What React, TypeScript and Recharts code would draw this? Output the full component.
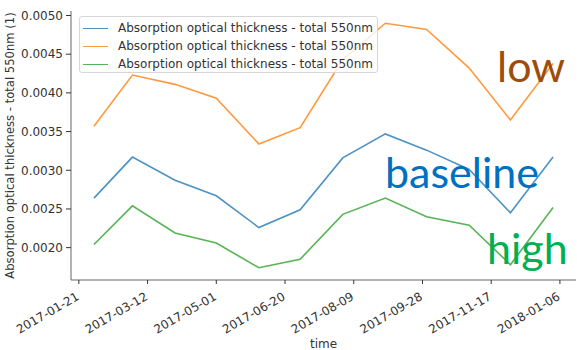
import { Line, LineChart, XAxis, YAxis } from "recharts";

// monthly means, Feb 2017 - Jan 2018
const months = [
    "2017-02-01", "2017-03-01", "2017-04-01", "2017-05-01", "2017-06-01", "2017-07-01",
    "2017-08-01", "2017-09-01", "2017-10-01", "2017-11-01", "2017-12-01", "2018-01-01",
];
const baseline = [0.00264, 0.00317, 0.00287, 0.00267, 0.00226, 0.00249, 0.00316, 0.00347, 0.00326, 0.00301, 0.00245, 0.00317];
const low = [0.00357, 0.00423, 0.00411, 0.00393, 0.00334, 0.00355, 0.00443, 0.00490, 0.00482, 0.00432, 0.00365, 0.00438];
const high = [0.00204, 0.00254, 0.00219, 0.00206, 0.00174, 0.00185, 0.00243, 0.00264, 0.00240, 0.00229, 0.00178, 0.00252];

const seriesName = "Absorption optical thickness - total 550nm";
const yAxisTitle = "Absorption optical thickness - total 550nm (1)";
const xTickLabels = ["2017-01-21", "2017-03-12", "2017-05-01", "2017-06-20", "2017-08-09", "2017-09-28", "2017-11-17", "2018-01-06"];
const yTicks = [0.002, 0.0025, 0.003, 0.0035, 0.004, 0.0045, 0.005];

const series = [
    { key: "baseline", color: "#1f77b4" },
    { key: "low", color: "#ff7f0e" },
    { key: "high", color: "#2ca02c" },
];

const data = months.map((m, i) => ({
    t: Date.parse(m),
    baseline: baseline[i],
    low: low[i],
    high: high[i],
}));

// matplotlib-style 5% padding around the data
const pad = (vals: number[]): [number, number] => {
    const lo = Math.min(...vals);
    const hi = Math.max(...vals);
    const m = (hi - lo) * 0.05;
    return [lo - m, hi + m];
};
const xDomain = pad(data.map((d) => d.t));
const yDomain = pad([...baseline, ...low, ...high]);
const xTicks = xTickLabels.map((s) => Date.parse(s));

const FONT = "'DejaVu Sans', sans-serif";
const SPINE = "#666";

const DateTick = ({ x, y, payload }: any) => (
    <text
        transform={`translate(${x + 1},${y + 13}) rotate(-30)`}
        textAnchor="end"
        fontSize={12}
        fontFamily={FONT}
        fill="#333"
    >
        {new Date(payload.value).toISOString().slice(0, 10)}
    </text>
);

const YTitle = ({ viewBox }: any) => {
    const cx = viewBox.x + 10;
    const cy = viewBox.y + viewBox.height / 2;
    return (
        <text
            x={cx}
            y={cy}
            transform={`rotate(-90, ${cx}, ${cy})`}
            textAnchor="middle"
            dominantBaseline="central"
            fontSize={11.6}
            fontFamily={FONT}
            fill="#333"
        >
            {yAxisTitle}
        </text>
    );
};

const notes = [
    { text: "low", color: "#9e4c0c", x: 497, y: 82 },
    { text: "baseline", color: "#0070c0", x: 385, y: 188 },
    { text: "high", color: "#00b050", x: 487, y: 264 },
];

const App = () => {
    return (
        <div style={{ position: "absolute", left: 0, top: 0, width: 577, height: 350, background: "#fff", overflow: "hidden" }}>
            <LineChart width={577} height={350} data={data} margin={{ top: 11, right: 1, left: 0, bottom: 0 }}>
                <XAxis
                    dataKey="t"
                    type="number"
                    domain={xDomain}
                    ticks={xTicks}
                    interval={0}
                    allowDataOverflow
                    height={70}
                    tickSize={4}
                    tickMargin={2}
                    stroke={SPINE}
                    tickLine={{ stroke: "#333" }}
                    tick={<DateTick />}
                    label={{ value: "time", position: "insideBottom", offset: 2, fontSize: 12, fontFamily: FONT, fill: "#333" }}
                />
                <XAxis xAxisId="top" orientation="top" dataKey="t" type="number" domain={xDomain} height={0} tick={false} tickLine={false} stroke={SPINE} />
                <YAxis
                    type="number"
                    domain={yDomain}
                    ticks={yTicks}
                    interval={0}
                    allowDataOverflow
                    width={71}
                    tickSize={5}
                    tickMargin={3}
                    stroke={SPINE}
                    tickLine={{ stroke: "#333" }}
                    tick={{ fontSize: 12, fontFamily: FONT, fill: "#333" }}
                    tickFormatter={(v: number) => v.toFixed(4)}
                    label={<YTitle />}
                />
                <YAxis yAxisId="right" orientation="right" domain={yDomain} width={0} tick={false} tickLine={false} stroke={SPINE} />
                {series.map((s) => (
                    <Line
                        key={s.key}
                        type="linear"
                        dataKey={s.key}
                        stroke={s.color}
                        strokeOpacity={0.8}
                        strokeWidth={1.6}
                        dot={false}
                        isAnimationActive={false}
                    />
                ))}
            </LineChart>

            {/* legend box, matplotlib "best" location, upper left */}
            <div
                style={{
                    position: "absolute",
                    left: 79,
                    top: 16,
                    width: 297,
                    height: 55,
                    border: "1px solid #d6d6d6",
                    borderRadius: 3,
                    background: "rgba(255,255,255,0.8)",
                    fontFamily: FONT,
                    fontSize: 12,
                    color: "#333",
                }}
            >
                {series.map((s, i) => (
                    <div key={s.key} style={{ position: "absolute", left: 3, top: 2 + i * 18, height: 18, display: "flex", alignItems: "center", whiteSpace: "nowrap" }}>
                        <span style={{ display: "inline-block", width: 25, height: 0, borderTop: `1.6px solid ${s.color}`, opacity: 0.8, marginRight: 10 }} />
                        <span>{seriesName}</span>
                    </div>
                ))}
            </div>

            <svg width={577} height={350} style={{ position: "absolute", left: 0, top: 0, pointerEvents: "none" }}>
                {notes.map((n) => (
                    <text key={n.text} x={n.x} y={n.y} fill={n.color} fontSize={43} fontFamily="Lato, 'Open Sans', sans-serif">
                        {n.text}
                    </text>
                ))}
            </svg>
        </div>
    );
};

export default App;
